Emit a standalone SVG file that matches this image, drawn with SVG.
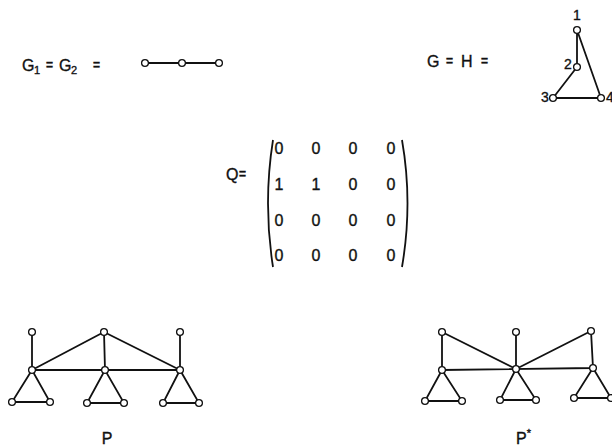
<svg xmlns="http://www.w3.org/2000/svg" width="612" height="446" viewBox="0 0 612 446">
<style>
text{font-family:"Liberation Sans","DejaVu Sans",sans-serif;fill:#111;stroke:#111;stroke-width:0.35}
.t{font-size:16px}
.s{font-size:11px}
.eq{font-size:12px;font-weight:bold}
.m{font-size:16px}
.l{font-size:14px}
.e{stroke:#111;stroke-width:1.8;fill:none}
.n{fill:#fff;stroke:#111;stroke-width:1.3}
</style>
<defs><circle id="v" r="3.4" class="n"/></defs>
<rect width="612" height="446" fill="#fff"/>

<g id="label-g1g2">
<text class="t" x="22" y="71">G</text><text class="s" x="34" y="74">1</text>
<text class="eq" x="46" y="69">=</text>
<text class="t" x="59" y="71">G</text><text class="s" x="71" y="74">2</text>
<text class="eq" x="93" y="69">=</text>
</g>
<g id="graph-g1g2">
<line class="e" x1="145" y1="63" x2="219" y2="63"/>
<use href="#v" x="145" y="63"/><use href="#v" x="182" y="63"/><use href="#v" x="219" y="63"/>
</g>

<g id="label-gh">
<text class="t" x="427" y="67">G</text>
<text class="eq" x="446" y="65">=</text>
<text class="t" x="461" y="67">H</text>
<text class="eq" x="481" y="65">=</text>
</g>
<g id="graph-h">
<path class="e" d="M577,30 L577,67 L553,98 L601,98 Z"/>
<use href="#v" x="577" y="30"/><use href="#v" x="577" y="67"/><use href="#v" x="553" y="98"/><use href="#v" x="601" y="98"/>
<text class="l" x="573" y="20">1</text>
<text class="l" x="564" y="69">2</text>
<text class="l" x="541" y="102">3</text>
<text class="l" x="606" y="102">4</text>
</g>

<g id="matrix-q">
<text class="t" x="226" y="180">Q</text>
<text class="eq" x="239" y="178">=</text>
<path class="e" stroke-width="1.6" d="M273,140 Q263,203 273,267"/>
<path class="e" stroke-width="1.6" d="M402,140 Q413,203 402,267"/>
<g class="m" text-anchor="middle">
<text x="279" y="154">0</text><text x="316" y="154">0</text><text x="353" y="154">0</text><text x="391" y="154">0</text>
<text x="279" y="190">1</text><text x="316" y="190">1</text><text x="353" y="190">0</text><text x="391" y="190">0</text>
<text x="279" y="226">0</text><text x="316" y="226">0</text><text x="353" y="226">0</text><text x="391" y="226">0</text>
<text x="279" y="261">0</text><text x="316" y="261">0</text><text x="353" y="261">0</text><text x="391" y="261">0</text>
</g>
</g>

<g id="graph-p">
<g id="p-edges">
<path class="e" d="M32,332 L32,370 M180,332 L180,370 M104,332 L32,370 M104,332 L105,370 M104,332 L180,370 M32,370 L180,370"/>
<path class="e" d="M32,370 L12,402 L50,402 Z M105,370 L87,403 L124,403 Z M180,370 L163,403 L199,403 Z"/>
</g>
<use href="#v" x="32" y="332"/><use href="#v" x="104" y="332"/><use href="#v" x="180" y="332"/>
<use href="#v" x="32" y="370"/><use href="#v" x="105" y="370"/><use href="#v" x="180" y="370"/>
<use href="#v" x="12" y="402"/><use href="#v" x="50" y="402"/>
<use href="#v" x="87" y="403"/><use href="#v" x="124" y="403"/>
<use href="#v" x="163" y="403"/><use href="#v" x="199" y="403"/>
<text class="t" x="107" y="444" text-anchor="middle">P</text>
</g>

<g id="graph-pstar">
<g id="ps-edges">
<path class="e" d="M442,332 L442,370 M442,332 L516,369 M516,332 L516,369 M591,331 L516,369 M591,331 L593,368 M442,370 L593,368"/>
<path class="e" d="M442,370 L425,401 L462,401 Z M516,369 L500,400 L536,400 Z M593,368 L574,398 L611,398 Z"/>
</g>
<use href="#v" x="442" y="332"/><use href="#v" x="516" y="332"/><use href="#v" x="591" y="331"/>
<use href="#v" x="442" y="370"/><use href="#v" x="516" y="369"/><use href="#v" x="593" y="368"/>
<use href="#v" x="425" y="401"/><use href="#v" x="462" y="401"/>
<use href="#v" x="500" y="400"/><use href="#v" x="536" y="400"/>
<use href="#v" x="574" y="398"/><use href="#v" x="611" y="398"/>
<text class="t" x="516" y="444">P<tspan class="s" dy="-7">*</tspan></text>
</g>
</svg>
